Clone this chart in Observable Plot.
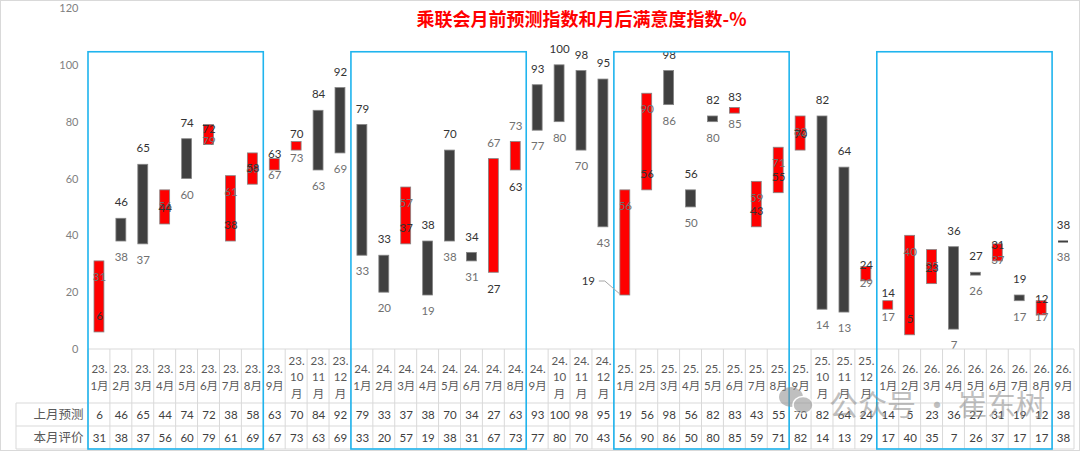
<!DOCTYPE html>
<html>
<head>
<meta charset="utf-8">
<script src="https://cdn.jsdelivr.net/npm/d3@7"></script>
<script src="https://cdn.jsdelivr.net/npm/@observablehq/plot@0.6"></script>
<style>
  html, body { margin: 0; padding: 0; background: #fff; }
  #chart { width: 1080px; height: 451px; position: relative; }
</style>
</head>
<body>
<div id="chart"></div>
<script>
// ---- data ----
const months = [
  "23.1","23.2","23.3","23.4","23.5","23.6","23.7","23.8","23.9","23.10","23.11","23.12",
  "24.1","24.2","24.3","24.4","24.5","24.6","24.7","24.8","24.9","24.10","24.11","24.12",
  "25.1","25.2","25.3","25.4","25.5","25.6","25.7","25.8","25.9","25.10","25.11","25.12",
  "26.1","26.2","26.3","26.4","26.5","26.6","26.7","26.8","26.9"
];
// 上月预测
const pred = [6,46,65,44,74,72,38,58,63,70,84,92, 79,33,37,38,70,34,27,63,93,100,98,95,
              19,56,98,56,82,83,43,55,70,82,64,24, 14,5,23,36,27,31,19,12,38];
// 本月评价
const evalv = [31,38,37,56,60,79,61,69,67,73,63,69, 33,20,57,19,38,31,67,73,77,80,70,43,
               56,90,86,50,80,85,59,71,82,14,13,29, 17,40,35,7,26,37,17,17,38];
const rowLabels = ["上月预测", "本月评价"];
const yTicks = [0, 20, 40, 60, 80, 100, 120];
const title = "乘联会月前预测指数和月后满意度指数-%";
const flippedLabels = ["24.7", "24.8"];   // labels placed outside the bar
const leaderLabels = ["25.1"];           // label moved left with a leader line
const watermark = "公众号 · 崔东树";

const data = months.map((m, i) => ({month: m, pred: pred[i], eval: evalv[i]}));

function tickLabel(m) {
  const [yy, mm] = m.split(".");
  return +mm >= 10 ? `${yy}.\n${mm}\n月` : `${yy}.\n${mm}月`;
}

const RED = "#ff0000", DARK = "#404040";
const PRED_C = "#333333", EVAL_C = "#707070", GRID = "#d9d9d9", BLUE = "#1fb4ee";
const FONT = "Lato, 'Noto Sans CJK SC', sans-serif";

const W = 1080, H = 451, MT = 8, MB = 102, ML = 88, MR = 6;

const normal = data.filter(d => !flippedLabels.includes(d.month) && !leaderLabels.includes(d.month));
const flipped = data.filter(d => flippedLabels.includes(d.month));
const leader = data.filter(d => leaderLabels.includes(d.month));

const plot = Plot.plot({
  width: W, height: H,
  marginTop: MT, marginBottom: MB, marginLeft: ML, marginRight: MR,
  style: {fontFamily: FONT, fontSize: "11px", background: "#fff"},
  x: {type: "band", domain: months, padding: 0, axis: null},
  y: {domain: [0, 120], axis: null},
  marks: [
    Plot.axisY({ticks: yTicks, tickSize: 0, tickPadding: 10, label: null, fill: "#7f7f7f", fontSize: 11}),
    Plot.barY(data.filter(d => d.pred !== d.eval), {
      x: "month", y1: "pred", y2: "eval",
      fill: d => d.eval > d.pred ? RED : DARK,
      stroke: "#858585", strokeWidth: 0.8, insetLeft: 6, insetRight: 6
    }),
    Plot.tickY(data.filter(d => d.pred === d.eval), {
      x: "month", y: "pred", stroke: DARK, strokeWidth: 2, insetLeft: 6, insetRight: 6
    }),
    // default labels: prediction above its point, evaluation below its point
    Plot.text(normal, {x: "month", y: "eval", text: "eval", dy: 16, fill: EVAL_C, fontSize: 11.5}),
    Plot.text(normal, {x: "month", y: "pred", text: "pred", dy: -16, fill: PRED_C, fontSize: 11.5}),
    // flipped labels
    Plot.text(flipped, {x: "month", y: "eval", text: "eval", dy: -16, fill: EVAL_C, fontSize: 11.5}),
    Plot.text(flipped, {x: "month", y: "pred", text: "pred", dy: 17, fill: PRED_C, fontSize: 11.5}),
    // leader label
    Plot.text(leader, {x: "month", y: "eval", text: "eval", dy: 16, fill: EVAL_C, fontSize: 11.5}),
    Plot.text(leader, {x: "month", y: "pred", text: "pred", dx: -37, dy: -14, fill: PRED_C, fontSize: 11.5}),
    // title
    Plot.text([title], {frameAnchor: "top", dy: 12, text: d => d, fill: "#ff0000",
      fontSize: 18, fontWeight: "bold", fontFamily: "'Noto Sans CJK SC', sans-serif", lineAnchor: "middle"}),
    // table header (x tick labels)
    Plot.text(months, {x: d => d, text: d => tickLabel(d), frameAnchor: "bottom", dy: 26.5,
      lineAnchor: "middle", lineHeight: 1.45, fill: "#595959", fontSize: 11.5}),
    // table rows
    Plot.text(data, {x: "month", text: "pred", frameAnchor: "bottom", dy: 65.5, lineAnchor: "middle", fill: "#404040", fontSize: 11.5}),
    Plot.text(data, {x: "month", text: "eval", frameAnchor: "bottom", dy: 88.5, lineAnchor: "middle", fill: "#404040", fontSize: 11.5}),
    Plot.text([rowLabels[0]], {text: d => d, frameAnchor: "bottom-left", dx: -5, dy: 65.5, textAnchor: "end", lineAnchor: "middle", fill: "#595959", fontSize: 12.5}),
    Plot.text([rowLabels[1]], {text: d => d, frameAnchor: "bottom-left", dx: -5, dy: 88.5, textAnchor: "end", lineAnchor: "middle", fill: "#595959", fontSize: 12.5})
  ]
});

document.getElementById("chart").appendChild(plot);

// ---- overlay: table grid, highlight boxes, leader line, watermark ----
const xs = plot.scale("x"), ys = plot.scale("y");
const bw = xs.bandwidth;
const svg = d3.select(plot);
const x0 = xs.apply(months[0]);
const x1 = xs.apply(months[months.length - 1]) + bw;
const yBase = ys.apply(0);
const rowY = [yBase, yBase + 54, yBase + 77, yBase + 100];
const tableLeft = 16;

const g = svg.insert("g", ":first-child");
g.append("rect").attr("x", 0.5).attr("y", 0.5).attr("width", W - 1).attr("height", H - 1)
  .attr("fill", "none").attr("stroke", GRID);

const grid = svg.append("g").attr("stroke", GRID).attr("stroke-width", 1);
grid.append("line").attr("x1", x0).attr("x2", x1).attr("y1", rowY[0]).attr("y2", rowY[0]);
for (let r = 1; r < 4; r++)
  grid.append("line").attr("x1", tableLeft).attr("x2", x1).attr("y1", rowY[r]).attr("y2", rowY[r]);
grid.append("line").attr("x1", tableLeft).attr("x2", tableLeft).attr("y1", rowY[1]).attr("y2", rowY[3]);
months.forEach(m => {
  const xx = xs.apply(m);
  grid.append("line").attr("x1", xx).attr("x2", xx).attr("y1", rowY[0]).attr("y2", rowY[3]);
});
grid.append("line").attr("x1", x1).attr("x2", x1).attr("y1", rowY[0]).attr("y2", rowY[3]);

// blue boxes around months 1-8 of each year
const years = [...new Set(months.map(m => m.split(".")[0]))];
years.forEach(yy => {
  const first = `${yy}.1`, last = `${yy}.8`;
  if (!months.includes(first) || !months.includes(last)) return;
  const bx0 = xs.apply(first), bx1 = xs.apply(last) + bw;
  svg.append("rect").attr("x", bx0).attr("y", ys.apply(104.6)).attr("width", bx1 - bx0)
    .attr("height", rowY[3] - ys.apply(104.6))
    .attr("fill", "none").attr("stroke", BLUE).attr("stroke-width", 1.6);
});

// leader line
leader.forEach(d => {
  const cx = xs.apply(d.month) + bw / 2, cy = ys.apply(d.pred);
  svg.append("path").attr("d", `M${cx - 26},${cy - 14} L${cx - 20},${cy - 14} L${cx - 5},${cy - 1}`)
    .attr("fill", "none").attr("stroke", "#a6a6a6").attr("stroke-width", 1);
});

// watermark
const wm = svg.append("g").attr("opacity", 0.55);
wm.append("ellipse").attr("cx", 791).attr("cy", 397).attr("rx", 12).attr("ry", 10).attr("fill", "#8c8c8c");
wm.append("ellipse").attr("cx", 803).attr("cy", 405).attr("rx", 10).attr("ry", 8.5).attr("fill", "#8c8c8c")
  .attr("stroke", "#fff").attr("stroke-width", 1.5);
wm.append("text").attr("x", 829).attr("y", 403).attr("dominant-baseline", "central")
  .attr("text-anchor", "start")
  .attr("font-family", "'Noto Sans CJK SC', sans-serif").attr("font-size", 29)
  .attr("fill", "#8c8c8c").text(watermark);
</script>
</body>
</html>
